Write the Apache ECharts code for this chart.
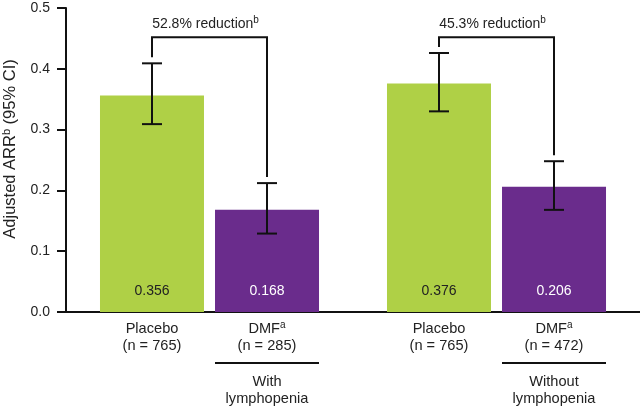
<!DOCTYPE html>
<html>
<head>
<meta charset="utf-8">
<script src="https://cdn.jsdelivr.net/npm/echarts@6/dist/echarts.min.js"></script>
<style>html,body{margin:0;padding:0;background:#fff;}#c{width:640px;height:407px;}</style>
</head>
<body>
<div id="c"></div>
<script>
// ---- Data ----
const categories = ['With lymphopenia', 'Without lymphopenia'];
const groupLabels = ['With\nlymphopenia', 'Without\nlymphopenia'];
const placeboValues = [0.356, 0.376];
const dmfValues = [0.168, 0.206];
const placeboLow = [0.309, 0.330];
const placeboHigh = [0.409, 0.426];
const dmfLow = [0.129, 0.168];
const dmfHigh = [0.212, 0.248];
const reductions = ['52.8% reduction', '45.3% reduction'];
const placeboN = [765, 765];
const dmfN = [285, 472];
const bracketLevel = [0.452, 0.452];
const yMin = 0, yMax = 0.5, yInterval = 0.1;

// ---- Styles ----
const FONT = 'Liberation Sans, Arial, sans-serif';
const TXT = '#222';
const GREEN = '#afd046';
const PURPLE = '#6a2c8c';
const BAR_W = 104, BAR_GAP = 11;
const OFF = (BAR_W + BAR_GAP) / 2;

const chart = echarts.init(document.getElementById('c'), null, {renderer: 'canvas'});

function errRender(lows, highs, sign) {
  return function (params, api) {
    const i = params.dataIndex;
    const cx = api.coord([i, 0])[0] + sign * OFF;
    const yl = api.coord([i, lows[i]])[1];
    const yh = api.coord([i, highs[i]])[1];
    const st = {stroke: '#111', lineWidth: 2};
    return {type: 'group', children: [
      {type: 'line', shape: {x1: cx, y1: yl, x2: cx, y2: yh}, style: st},
      {type: 'line', shape: {x1: cx - 10, y1: yl, x2: cx + 10, y2: yl}, style: st},
      {type: 'line', shape: {x1: cx - 10, y1: yh, x2: cx + 10, y2: yh}, style: st}
    ]};
  };
}

const supRich = {
  s: {fontSize: 10, fontFamily: FONT, color: TXT, verticalAlign: 'top', lineHeight: 17},
  m: {fontSize: 14, fontFamily: FONT, color: TXT, lineHeight: 17}
};
const labRich = {
  s: {fontSize: 10, fontFamily: FONT, color: TXT, verticalAlign: 'top', lineHeight: 17},
  m: {fontSize: 14.6, fontFamily: FONT, color: TXT, lineHeight: 17}
};
const nameRich = {
  s: {fontSize: 11, fontFamily: FONT, color: TXT, verticalAlign: 'top', lineHeight: 18},
  m: {fontSize: 16.5, fontFamily: FONT, color: TXT, lineHeight: 18}
};

const option = {
  animation: false,
  textStyle: {fontFamily: FONT},
  grid: {left: 66, right: 0, top: 8, bottom: 95, containLabel: false, outerBoundsMode: 'none'},
  xAxis: {
    type: 'category',
    data: categories,
    axisLine: {lineStyle: {color: '#111', width: 2}},
    axisTick: {show: false},
    axisLabel: {show: false}
  },
  yAxis: {
    type: 'value',
    min: yMin, max: yMax, interval: yInterval,
    name: '{m|Adjusted ARR}{s|b}{m| (95% CI)}',
    nameLocation: 'middle',
    nameGap: 47,
    nameTextStyle: {rich: nameRich, fontSize: 16.5, color: TXT, padding: [0, 0, 0, 22]},
    axisLine: {show: true, lineStyle: {color: '#111', width: 2}},
    axisTick: {show: true, length: 9, lineStyle: {color: '#111', width: 2}},
    axisLabel: {margin: 16, fontSize: 14, color: TXT, fontFamily: FONT,
      formatter: v => v.toFixed(1)},
    splitLine: {show: false}
  },
  series: [
    {
      type: 'bar', name: 'Placebo', data: placeboValues,
      barWidth: BAR_W, barGap: (BAR_GAP / BAR_W * 100).toFixed(1) + '%',
      itemStyle: {color: GREEN},
      label: {show: true, position: 'insideBottom', distance: 14, fontSize: 14,
        color: TXT, fontFamily: FONT, formatter: p => p.value.toFixed(3)}
    },
    {
      type: 'bar', name: 'DMF', data: dmfValues,
      barWidth: BAR_W,
      itemStyle: {color: PURPLE},
      label: {show: true, position: 'insideBottom', distance: 14, fontSize: 14,
        color: '#fff', fontFamily: FONT, formatter: p => p.value.toFixed(3)}
    },
    {
      type: 'custom', name: 'PlaceboCI', data: placeboValues.map((v, i) => [i, placeboHigh[i]]),
      renderItem: errRender(placeboLow, placeboHigh, -1), z: 5
    },
    {
      type: 'custom', name: 'DMFCI', data: dmfValues.map((v, i) => [i, dmfHigh[i]]),
      renderItem: errRender(dmfLow, dmfHigh, 1), z: 5
    },
    {
      type: 'custom', name: 'Bracket', clip: false, z: 6,
      data: bracketLevel.map((v, i) => [i, v]),
      renderItem: function (params, api) {
        const i = params.dataIndex;
        const cx = api.coord([i, 0])[0];
        const xl = cx - OFF, xr = cx + OFF;
        const yt = api.coord([i, bracketLevel[i]])[1];
        const yl = api.coord([i, placeboHigh[i]])[1] - 6;
        const yr = api.coord([i, dmfHigh[i]])[1] - 6;
        return {type: 'group', children: [
          {type: 'polyline', shape: {points: [[xl, yl], [xl, yt], [xr, yt], [xr, yr]]},
            style: {stroke: '#111', lineWidth: 2, fill: null}},
          {type: 'text', x: cx - 4, y: yt - 5,
            style: {text: '{m|' + reductions[i] + '}{s|b}', rich: supRich,
              align: 'center', verticalAlign: 'bottom', fill: TXT}}
        ]};
      }
    },
    {
      type: 'custom', name: 'Labels', clip: false, z: 6,
      data: categories.map((c, i) => [i, 0]),
      renderItem: function (params, api) {
        const i = params.dataIndex;
        const [cx, y0] = api.coord([i, 0]);
        const xp = cx - OFF, xd = cx + OFF;
        return {type: 'group', children: [
          {type: 'text', x: xp, y: y0 + 8,
            style: {text: '{m|Placebo}\n{m|(n = ' + placeboN[i] + ')}', rich: labRich,
              align: 'center', verticalAlign: 'top', fill: TXT}},
          {type: 'text', x: xd, y: y0 + 8,
            style: {text: '{m|DMF}{s|a}\n{m|(n = ' + dmfN[i] + ')}', rich: labRich,
              align: 'center', verticalAlign: 'top', fill: TXT}},
          {type: 'line', shape: {x1: xd - BAR_W / 2, y1: y0 + 51, x2: xd + BAR_W / 2, y2: y0 + 51},
            style: {stroke: '#111', lineWidth: 2}},
          {type: 'text', x: xd, y: y0 + 61,
            style: {text: groupLabels[i].split('\n').map(s => '{m|' + s + '}').join('\n'), rich: labRich,
              align: 'center', verticalAlign: 'top', fill: TXT}}
        ]};
      }
    }
  ]
};
chart.setOption(option);
</script>
</body>
</html>
